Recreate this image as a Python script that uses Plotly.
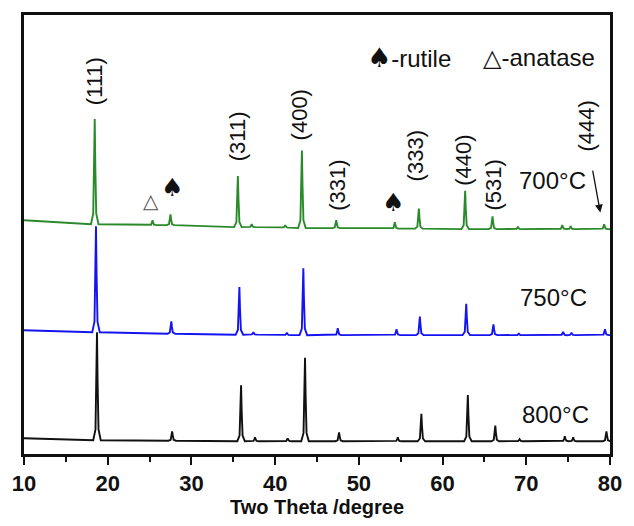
import plotly.graph_objects as go

# ---------------- data ----------------
# 2-theta range ends and intensity (a.u., stacked) at the ends of each pattern
ends_700 = [(10.0, 238), (80.0, 229)]
ends_750 = [(10.0, 126), (80.0, 121)]
ends_800 = [(10.0, 16), (80.0, 13)]

# peak positions (degree), apex intensity, local background under the peak
pos_700 = [18.45, 25.35, 27.5, 35.55, 37.2, 41.2, 43.2, 47.3, 54.3, 57.17, 62.7, 65.97, 69.0, 74.3, 75.3, 79.3]
top_700 = [341, 238, 244, 283, 234, 233, 309, 238, 236, 250, 268, 242, 231, 233, 232, 234]
bkg_700 = [234, 233, 233, 231, 231, 230.5, 230, 230, 229.5, 229.5, 229, 229, 229, 229, 229, 229]

pos_750 = [18.6, 27.6, 35.73, 37.4, 41.4, 43.37, 47.48, 54.5, 57.29, 62.83, 66.08, 69.1, 74.4, 75.4, 79.4]
top_750 = [232, 135, 170, 124, 123.5, 189, 128, 127, 140, 153, 132, 122.5, 124.5, 123.5, 127]
bkg_750 = [124, 122.5, 121.5, 121.5, 121, 121, 121, 121, 121, 121, 121, 121, 121, 121, 121]

pos_800 = [18.72, 27.7, 35.93, 37.6, 41.5, 43.57, 47.64, 54.65, 57.47, 63.02, 66.3, 69.2, 74.6, 75.6, 79.58]
top_800 = [124, 23, 70, 17, 16, 98, 22, 17, 41, 60, 29, 15, 18, 17, 23]
bkg_800 = [14, 13.5, 13, 13, 13, 13, 13, 13, 13, 13, 13, 13, 13, 13, 13]

hkl_labels = ["(111)", "(311)", "(400)", "(331)", "(333)", "(440)", "(531)", "(444)"]
hkl_x = [18.42, 35.5, 42.88, 47.5, 56.7, 62.5, 66.1, 77.2]
hkl_y = [380, 324, 345, 274, 304, 299, 274, 334]

temp_labels = ["700°C", "750°C", "800°C"]
temp_x = [73.1, 73.2, 73.5]
temp_y = [278, 159, 40]

x_ticks = [10, 20, 30, 40, 50, 60, 70, 80]


def pattern(ends, pos, top, bkg):
    xs = [ends[0][0]]
    ys = [ends[0][1]]
    for p, t, b in zip(pos, top, bkg):
        h = t - b
        xs += [p - 0.45, p - 0.18, p - 0.07, p, p + 0.07, p + 0.18, p + 0.45]
        ys += [b, b + 0.1 * h, b + 0.55 * h, t, b + 0.55 * h, b + 0.1 * h, b]
    xs.append(ends[1][0])
    ys.append(ends[1][1])
    return xs, ys


fig = go.Figure()
for ends, pos, top, bkg, col, name in [
    (ends_800, pos_800, top_800, bkg_800, "#111111", "800°C"),
    (ends_750, pos_750, top_750, bkg_750, "#1414f0", "750°C"),
    (ends_700, pos_700, top_700, bkg_700, "#2a8a2a", "700°C"),
]:
    xs, ys = pattern(ends, pos, top, bkg)
    fig.add_trace(go.Scatter(x=xs, y=ys, mode="lines", name=name,
                             line=dict(color=col, width=1.9), showlegend=False))

FONT = "Liberation Sans, Arial, DejaVu Sans, sans-serif"
ann = []
for t, x, y in zip(hkl_labels, hkl_x, hkl_y):
    ann.append(dict(x=x, y=y, xref="x", yref="y", text=t, showarrow=False,
                    textangle=-90, font=dict(family=FONT, size=22, color="#111")))
for t, x, y in zip(temp_labels, temp_x, temp_y):
    ann.append(dict(x=x, y=y, xref="x", yref="y", text=t, showarrow=False,
                    font=dict(family=FONT, size=24, color="#111")))
# phase markers
ann.append(dict(x=25.14, y=258, xref="x", yref="y", text="△", showarrow=False,
                font=dict(family="DejaVu Sans", size=20, color="#555")))
ann.append(dict(x=27.67, y=271, xref="x", yref="y", text="♠", showarrow=False,
                font=dict(family="DejaVu Sans", size=25, color="#111")))
ann.append(dict(x=54.03, y=256, xref="x", yref="y", text="♠", showarrow=False,
                font=dict(family="DejaVu Sans", size=25, color="#111")))
# key
ann.append(dict(x=56.0, y=404, xref="x", yref="y",
                text="<span style='font-family:DejaVu Sans;font-size:27px'>♠</span>-rutile",
                showarrow=False, font=dict(family=FONT, size=24, color="#111")))
ann.append(dict(x=71.5, y=404, xref="x", yref="y", text="△-anatase", showarrow=False,
                font=dict(family=FONT, size=24, color="#111")))
# arrow to (444)
ann.append(dict(x=78.84, y=246, ax=77.9, ay=290, xref="x", yref="y", axref="x", ayref="y",
                text="", showarrow=True, arrowhead=2, arrowsize=1.2, arrowwidth=1.3,
                arrowcolor="#111"))

fig.update_layout(
    width=634, height=526,
    margin=dict(l=21, r=12, t=14, b=65),
    paper_bgcolor="white", plot_bgcolor="white",
    annotations=ann,
    xaxis=dict(range=[10, 80], tickvals=x_ticks, ticks="outside", ticklen=8, tickwidth=2,
               tickcolor="#111", showline=True, linewidth=2.5, linecolor="#111",
               mirror=True, showgrid=False, zeroline=False,
               minor=dict(ticks="outside", ticklen=5, tickwidth=2, dtick=5, tickcolor="#111"),
               tickfont=dict(family=FONT, size=22, color="#111", weight="bold"),
               title=dict(text="Two Theta /degree", standoff=4,
                          font=dict(family=FONT, size=20, color="#111", weight="bold"))),
    yaxis=dict(range=[0, 447], showline=True, linewidth=2.5, linecolor="#111", mirror=True,
               showticklabels=False, ticks="", showgrid=False, zeroline=False),
)

fig.write_html("out.html")
